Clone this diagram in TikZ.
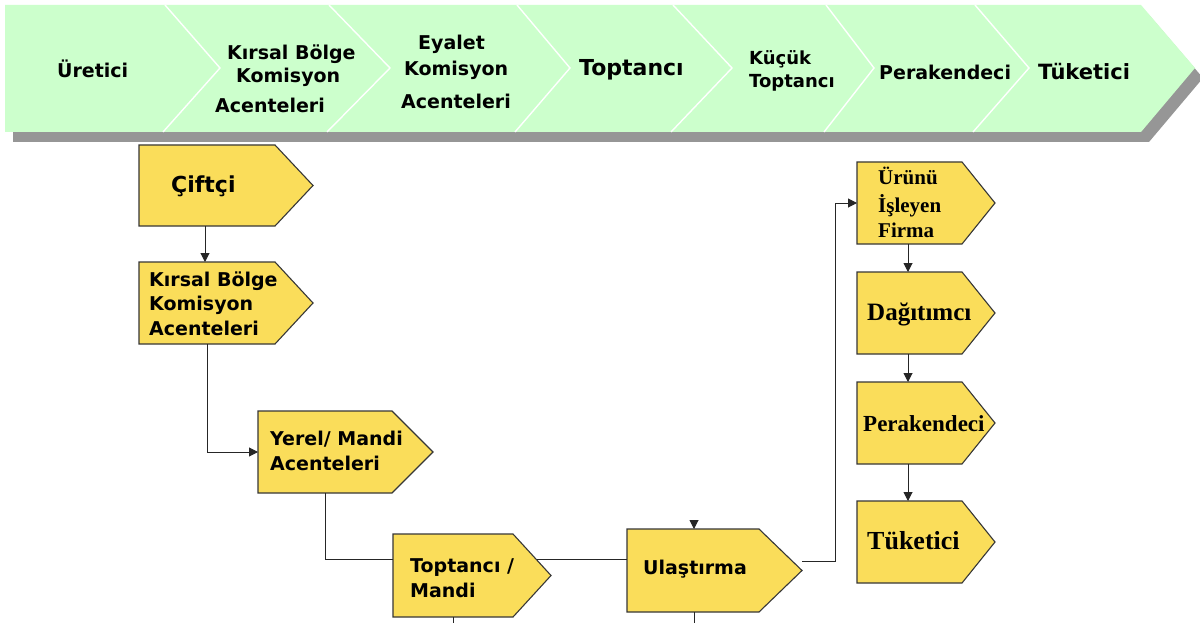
\documentclass[tikz,border=0pt]{standalone}
\usepackage{fontspec}
\setmainfont{Liberation Serif}
\newfontfamily\bandfont{DejaVu Sans}
\usetikzlibrary{arrows.meta,fit}
\definecolor{bandgreen}{RGB}{204,255,204}
\definecolor{shadowgray}{RGB}{150,150,150}
\definecolor{boxyellow}{RGB}{250,221,90}
\definecolor{boxborder}{RGB}{55,55,55}
\tikzset{
  yshape/.style={fill=boxyellow,draw=boxborder,line width=1.1pt,line join=miter},
  sep/.style={draw=white,line width=1.4pt},
  bandtxt/.style={inner sep=0pt,anchor=base west,font=\bandfont\bfseries\fontsize{19}{19}\selectfont},
  boxtxt/.style={inner sep=0pt,anchor=base west,font=\bandfont\bfseries\fontsize{19}{19}\selectfont},
  sertxt/.style={inner sep=0pt,anchor=base west,font=\rmfamily\bfseries\fontsize{21}{21}\selectfont},
  conn/.style={draw=black!85,line width=1pt},
  arr/.style={conn,-{Triangle[length=9pt,width=9pt]}}
}
\newcommand\ybox[6]{%
  \path[yshape] (#2,#3) -- (#4,#3) -- (#5,{(#3+#6)/2}) -- (#4,#6) -- (#2,#6) -- cycle;
  \path (#2,#3) coordinate (#1-nw) (#5,#6) coordinate (#1-se);
  \node[fit=(#1-nw)(#1-se),inner sep=0pt,outer sep=0pt] (#1) {};
}
\begin{document}
\begin{tikzpicture}[x=1pt,y=-1pt]
\useasboundingbox (0,0) rectangle (1200,623);
\fill[white] (0,0) rectangle (1200,623);
% top band
\fill[shadowgray] (13,15) -- (1149,15) -- (1203,78) -- (1149,142) -- (13,142) -- cycle;
\fill[bandgreen] (5,5) -- (1141,5) -- (1195,68) -- (1141,132) -- (5,132) -- cycle;
\foreach \a/\b in {165/220,329/390,517/570,673/732,826/874,975/1029}{
  \draw[sep] (\a,5) -- (\b,68) -- (\a-2,132);
}
\node[bandtxt] (b1) at (57,78) {Üretici};
\node[bandtxt] (b2a) at (227,60) {Kırsal Bölge};
\node[bandtxt] (b2b) at (236,83) {Komisyon};
\node[bandtxt] (b2c) at (215,113) {Acenteleri};
\node[bandtxt] (b3a) at (418,50) {Eyalet};
\node[bandtxt] (b3b) at (404,76) {Komisyon};
\node[bandtxt] (b3c) at (401,109) {Acenteleri};
\node[bandtxt,font=\bandfont\bfseries\fontsize{22}{22}\selectfont] (b4) at (579,76) {Toptancı};
\node[bandtxt,font=\bandfont\bfseries\fontsize{18}{18}\selectfont] (b5a) at (749,65) {Küçük};
\node[bandtxt,font=\bandfont\bfseries\fontsize{18}{18}\selectfont] (b5b) at (749,88) {Toptancı};
\node[bandtxt] (b6) at (879,80) {Perakendeci};
\node[bandtxt,font=\bandfont\bfseries\fontsize{21}{21}\selectfont] (b7) at (1038,80) {Tüketici};
% yellow boxes
\ybox{cif}{139}{145}{275}{313}{226}
\ybox{kir}{139}{262}{275}{313}{344}
\ybox{yer}{258}{411}{392}{433}{493}
\ybox{top}{393}{534}{513}{551}{617}
\ybox{ula}{627}{529}{759}{802}{612}
\ybox{urn}{857}{162}{962}{995}{244}
\ybox{dag}{857}{272}{962}{995}{354}
\ybox{per}{857}{382}{962}{995}{464}
\ybox{tuk}{857}{501}{962}{995}{583}
% texts in boxes
\node[boxtxt,font=\bandfont\bfseries\fontsize{22}{22}\selectfont] (t1) at (171,193) {Çiftçi};
\node[boxtxt] (t2a) at (149,286) {Kırsal Bölge};
\node[boxtxt] (t2b) at (149,310) {Komisyon};
\node[boxtxt] (t2c) at (149,335) {Acenteleri};
\node[boxtxt] (t3a) at (270,445) {Yerel/ Mandi};
\node[boxtxt] (t3b) at (270,470) {Acenteleri};
\node[boxtxt] (t4a) at (410,572) {Toptancı /};
\node[boxtxt] (t4b) at (410,597) {Mandi};
\node[boxtxt] (t5) at (643,574) {Ulaştırma};
\node[sertxt] (t6a) at (878,185) {Ürünü};
\node[sertxt] (t6b) at (878,212) {İşleyen};
\node[sertxt] (t6c) at (878,237) {Firma};
\node[sertxt,font=\rmfamily\bfseries\fontsize{25}{25}\selectfont] (t7) at (867,320) {Dağıtımcı};
\node[sertxt,font=\rmfamily\bfseries\fontsize{23}{23}\selectfont] (t8) at (863,431) {Perakendeci};
\node[sertxt,font=\rmfamily\bfseries\fontsize{26}{26}\selectfont] (t9) at (867,549) {Tüketici};
% connectors
\draw[arr] ([xshift=66pt]cif.south west) -- ([xshift=66pt]kir.north west);
\draw[arr] ([xshift=68pt]kir.south west) |- (yer.west);
\draw[conn] ([xshift=67pt]yer.south west) |- ([yshift=16pt]top.west);
\coordinate (p) at ([xshift=-14pt,yshift=16pt]top.east);
\draw[conn] (p) -- (p -| ula.west);
\draw[arr] ([yshift=9pt]ula.east) -- ++(33,0) |- (urn.west);
\draw[arr] ([xshift=51pt]urn.south west) -- ([xshift=51pt]dag.north west);
\draw[arr] ([xshift=51pt]dag.south west) -- ([xshift=51pt]per.north west);
\draw[arr] ([xshift=51pt]per.south west) -- ([xshift=51pt]tuk.north west);
% stubs
\draw[arr] ([xshift=67pt,yshift=9pt]ula.north west) -- ([xshift=67pt]ula.north west);
\draw[conn] ([xshift=67pt]ula.south west) -- ++(0,11);
\draw[conn] ([xshift=60pt]top.south west) -- ++(0,6);
\end{tikzpicture}
\end{document}
